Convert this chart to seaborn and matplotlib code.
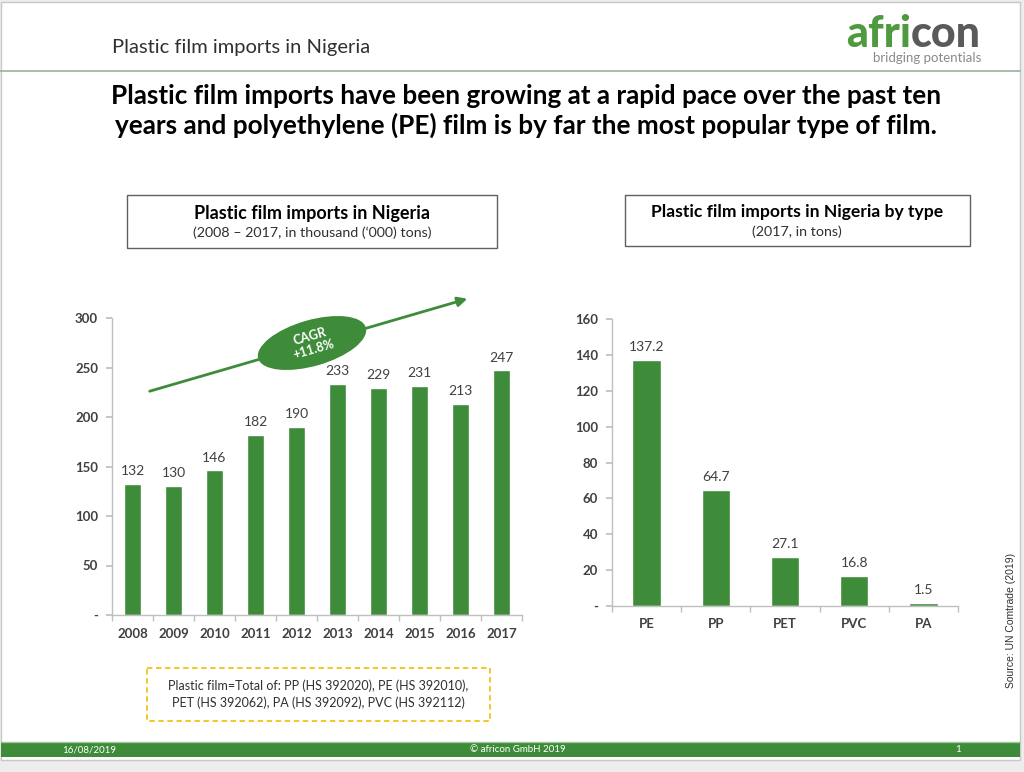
import matplotlib
matplotlib.use("Agg")
import matplotlib.pyplot as plt
import seaborn as sns
import pandas as pd
from matplotlib.patches import Rectangle, Ellipse

# data
years = ["2008", "2009", "2010", "2011", "2012", "2013", "2014", "2015", "2016", "2017"]
imports_kt = [132, 130, 146, 182, 190, 233, 229, 231, 213, 247]
film_types = ["PE", "PP", "PET", "PVC", "PA"]
type_tons = [137.2, 64.7, 27.1, 16.8, 1.5]
left_ticks = [0, 50, 100, 150, 200, 250, 300]
left_tick_labels = ["-", "50", "100", "150", "200", "250", "300"]
right_ticks = [0, 20, 40, 60, 80, 100, 120, 140, 160]
right_tick_labels = ["-", "20", "40", "60", "80", "100", "120", "140", "160"]

GREEN = "#3E8B3A"
DARK = "#404040"
SPINE = "#BFBFBF"

sns.set_theme(style="white")
plt.rcParams["font.family"] = ["Lato", "DejaVu Sans"]

fig = plt.figure(figsize=(10.24, 7.72), dpi=100)
fig.patch.set_facecolor("#EDEDED")

W, H = 1024, 772

def frac_box(x0, y0, x1, y1):
    # pixel box (top-left origin) -> figure fraction rect
    return [x0 / W, 1 - y1 / H, (x1 - x0) / W, (y1 - y0) / H]

# background slide
bg = fig.add_axes([0, 0, 1, 1], zorder=0)
bg.set_xlim(0, W)
bg.set_ylim(H, 0)
bg.axis("off")
bg.add_patch(Rectangle((1, 2), 1019, 758, facecolor="white", edgecolor="#C8C8C8", lw=1))

def style_bar_axes(ax, ticks, labels, top):
    ax.set_facecolor("none")
    ax.set_ylim(0, top)
    ax.set_yticks(ticks)
    ax.set_yticklabels(labels, fontsize=9.5, fontweight="bold", color=DARK)
    ax.set_xlabel("")
    ax.set_ylabel("")
    for side in ["top", "right"]:
        ax.spines[side].set_visible(False)
    for side in ["left", "bottom"]:
        ax.spines[side].set_color(SPINE)
        ax.spines[side].set_linewidth(1)
    n = len(ax.get_xticks())
    ax.set_xticks([i + 0.5 for i in range(-1, n)], minor=True)
    ax.tick_params(axis="x", which="major", length=0, pad=9)
    ax.tick_params(axis="x", which="minor", length=4, color=SPINE, direction="out", bottom=True)
    ax.tick_params(axis="y", length=4, color=SPINE, direction="out", left=True, pad=6)
    for t in ax.get_xticklabels():
        t.set_fontsize(9.5)
        t.set_fontweight("bold")
        t.set_color(DARK)

# left chart: total imports
df_years = pd.DataFrame({"year": years, "imports": imports_kt})
ax1 = fig.add_axes(frac_box(112, 318, 522, 615), zorder=1)
sns.barplot(data=df_years, x="year", y="imports", color=GREEN, saturation=1, width=0.41, ax=ax1)
ax1.set_xlim(-0.5, len(years) - 0.5)
style_bar_axes(ax1, left_ticks, left_tick_labels, 300)
ax1.bar_label(ax1.containers[0], fmt="%d", padding=5, fontsize=10, color=DARK)

# right chart: by type
df_types = pd.DataFrame({"type": film_types, "tons": type_tons})
ax2 = fig.add_axes(frac_box(612, 319, 958, 606), zorder=1)
sns.barplot(data=df_types, x="type", y="tons", color=GREEN, saturation=1, width=0.41, ax=ax2)
ax2.set_xlim(-0.5, len(film_types) - 0.5)
style_bar_axes(ax2, right_ticks, right_tick_labels, 160)
ax2.bar_label(ax2.containers[0], fmt="%.1f", padding=5, fontsize=10, color=DARK)

# overlay for slide decorations
ov = fig.add_axes([0, 0, 1, 1], zorder=2)
ov.set_xlim(0, W)
ov.set_ylim(H, 0)
ov.axis("off")
ov.patch.set_alpha(0)

# header
ov.text(112, 48, "Plastic film imports in Nigeria", fontsize=14.5, color="#303030", va="center", ha="left")
ov.plot([0, 1020], [71, 71], color="#9DB09D", lw=1.2)
afri = ov.text(846, 47, "afri", fontsize=31, fontweight="black", color="#4E9A3E", va="baseline", ha="left")
ov.annotate("con", xy=(1, 0), xycoords=afri, fontsize=31, fontweight="black", color="#5A5A5A",
            va="bottom", ha="left")
ov.text(981, 58, "bridging potentials", fontsize=9.5, color="#8A8A8A", va="center", ha="right")

# headline
ov.text(526, 111, "Plastic film imports have been growing at a rapid pace over the past ten\n"
        "years and polyethylene (PE) film is by far the most popular type of film.",
        fontsize=18.8, fontweight="bold", color="black", ha="center", va="center", linespacing=1.25)

# chart title boxes
ov.add_patch(Rectangle((127, 195), 370, 53, facecolor="white", edgecolor="#606060", lw=1))
ov.text(312, 213, "Plastic film imports in Nigeria", fontsize=13, fontweight="bold", ha="center", va="center", color="black")
ov.text(312, 233, "(2008 \u2013 2017, in thousand (\u2018000) tons)", fontsize=10.3, ha="center", va="center", color="#303030")
ov.add_patch(Rectangle((625, 195), 345, 51, facecolor="white", edgecolor="#606060", lw=1))
ov.text(797, 212, "Plastic film imports in Nigeria by type", fontsize=12.6, fontweight="bold", ha="center", va="center", color="black")
ov.text(797, 232, "(2017, in tons)", fontsize=10.3, ha="center", va="center", color="#303030")

# CAGR arrow
ov.annotate("", xy=(470, 298), xytext=(147, 392),
            arrowprops=dict(arrowstyle="-|>", color=GREEN, lw=2, mutation_scale=14))
ov.add_patch(Ellipse((312, 343), 112, 46, angle=-16, facecolor=GREEN, edgecolor="none"))
ov.text(312, 343, "CAGR\n+11.8%", rotation=16, rotation_mode="anchor", fontsize=9, fontweight="bold",
        color="white", ha="center", va="center", linespacing=1.1)

# note box
ov.add_patch(Rectangle((147, 668), 343, 53, facecolor="white", edgecolor="#F0C419", lw=1.3, linestyle=(0, (3, 2))))
ov.text(318, 694, "Plastic film=Total of: PP (HS 392020), PE (HS 392010),\nPET (HS 392062), PA (HS 392092), PVC (HS 392112)",
        fontsize=9, ha="center", va="center", color="#303030", linespacing=1.4)

# source
ov.text(1011, 620, "Source: UN Comtrade (2019)", rotation=90, fontsize=7.5, color="#303030", ha="center", va="center",
        family=["Liberation Sans", "DejaVu Sans"])

# footer band
ov.add_patch(Rectangle((1, 742), 1019, 15, facecolor=GREEN, edgecolor="none"))
ov.plot([1, 1020], [742, 742], color="#9CC79A", lw=1)
ov.text(62, 750, "16/08/2019", fontsize=7, color="white", va="center", ha="left")
ov.text(518, 750, "\u00a9 africon GmbH 2019", fontsize=7, color="white", va="center", ha="center")
ov.text(958, 750, "1", fontsize=7, color="white", va="center", ha="center")

fig.savefig("out.png", dpi=100, facecolor=fig.get_facecolor())
